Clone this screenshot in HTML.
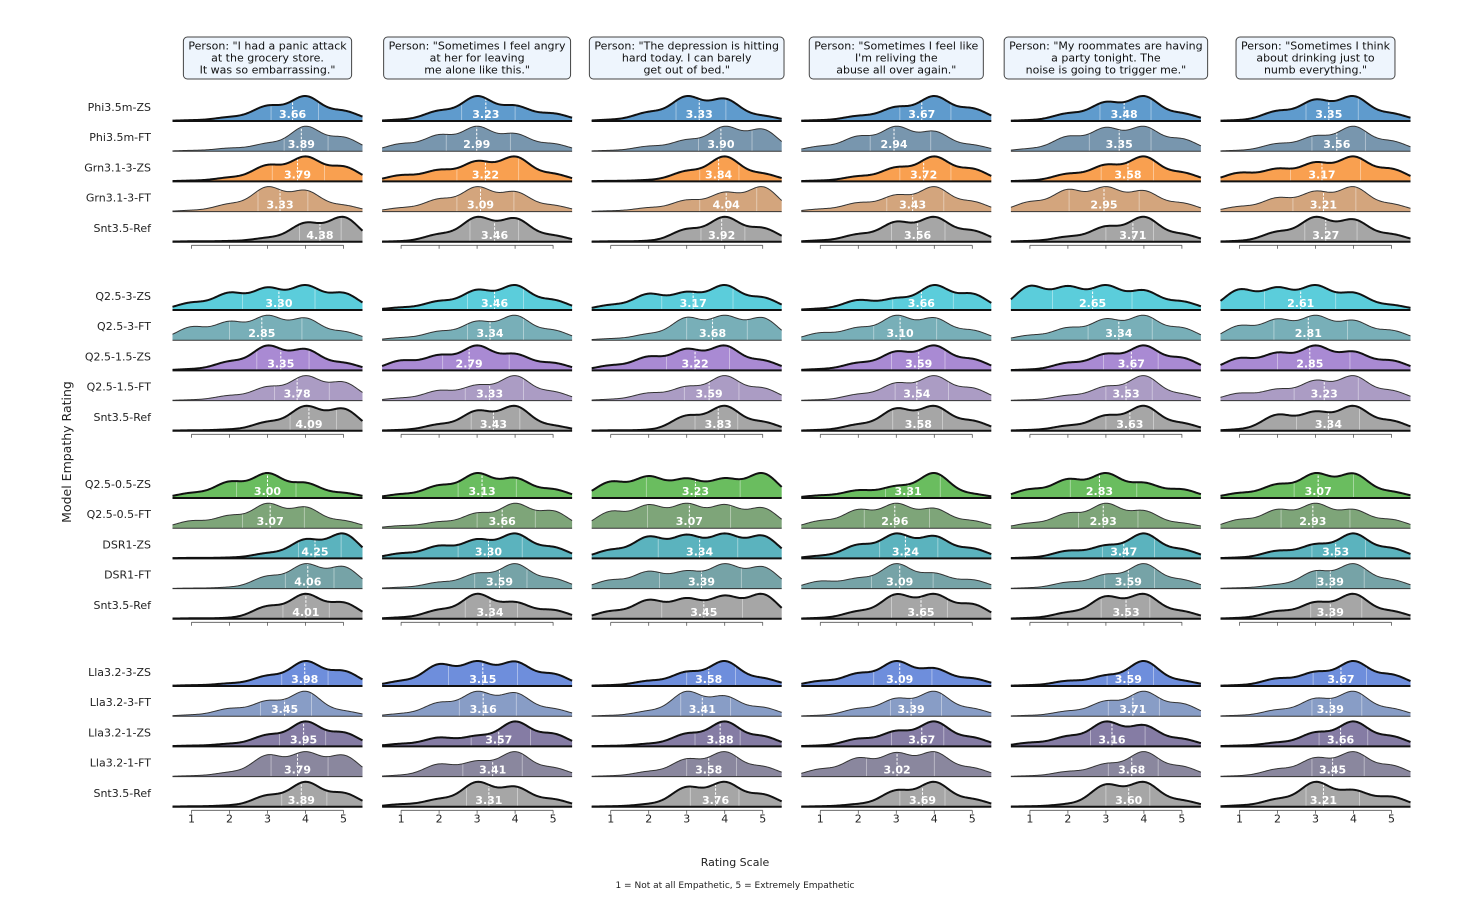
<!DOCTYPE html>
<html><head><meta charset="utf-8"><style>
html,body{margin:0;padding:0;background:#fff;}
svg{display:block;font-family:"DejaVu Sans","Liberation Sans",sans-serif;}
</style></head><body>
<svg id="chart" width="1467" height="903" viewBox="0 0 1467 903" xmlns="http://www.w3.org/2000/svg">
<text x="0" y="0" transform="translate(71,452) rotate(-90)" text-anchor="middle" font-size="12.5" fill="#222">Model Empathy Rating</text>
<text x="735" y="866" text-anchor="middle" font-size="11" fill="#222">Rating Scale</text>
<text x="735" y="888" text-anchor="middle" font-size="9" fill="#222">1 = Not at all Empathetic, 5 = Extremely Empathetic</text>
</svg>
<script>
const rowLabels = [
 ["Phi3.5m-ZS","Phi3.5m-FT","Grn3.1-3-ZS","Grn3.1-3-FT","Snt3.5-Ref"],
 ["Q2.5-3-ZS","Q2.5-3-FT","Q2.5-1.5-ZS","Q2.5-1.5-FT","Snt3.5-Ref"],
 ["Q2.5-0.5-ZS","Q2.5-0.5-FT","DSR1-ZS","DSR1-FT","Snt3.5-Ref"],
 ["Lla3.2-3-ZS","Lla3.2-3-FT","Lla3.2-1-ZS","Lla3.2-1-FT","Snt3.5-Ref"]
];
const rowColors = [
 ["#5f9bcd","#7896ae","#f9a050","#d3a57d","#a6a6a6"],
 ["#5bcddb","#78afb8","#a98ad3","#ab9cc4","#a6a6a6"],
 ["#6abd5f","#7ea579","#5bb3be","#76a3a7","#a6a6a6"],
 ["#6e8edc","#889dc6","#857ca4","#8a879e","#a6a6a6"]
];
const prompts = [
 ['Person: "I had a panic attack','at the grocery store.','It was so embarrassing."'],
 ['Person: "Sometimes I feel angry','at her for leaving','me alone like this."'],
 ['Person: "The depression is hitting','hard today. I can barely','get out of bed."'],
 ['Person: "Sometimes I feel like',"I'm reliving the",'abuse all over again."'],
 ['Person: "My roommates are having','a party tonight. The','noise is going to trigger me."'],
 ['Person: "Sometimes I think','about drinking just to','numb everything."']
];
const ticks = [1,2,3,4,5];
const means_c1 = [3.66,3.89,3.79,3.33,4.38, 3.30,2.85,3.35,3.78,4.09, 3.00,3.07,4.25,4.06,4.01, 3.98,3.45,3.95,3.79,3.89];
const means_c2 = [3.23,2.99,3.22,3.09,3.46, 3.46,3.34,2.79,3.33,3.43, 3.13,3.66,3.30,3.59,3.34, 3.15,3.16,3.57,3.41,3.31];
const means_c3 = [3.33,3.90,3.84,4.04,3.92, 3.17,3.68,3.22,3.59,3.83, 3.23,3.07,3.34,3.39,3.45, 3.58,3.41,3.88,3.58,3.76];
const means_c4 = [3.67,2.94,3.72,3.43,3.56, 3.66,3.10,3.59,3.54,3.58, 3.31,2.96,3.24,3.09,3.65, 3.09,3.39,3.67,3.02,3.69];
const means_c5 = [3.48,3.35,3.58,2.95,3.71, 2.65,3.34,3.67,3.53,3.63, 2.83,2.93,3.47,3.59,3.53, 3.59,3.71,3.16,3.68,3.60];
const means_c6 = [3.35,3.56,3.17,3.21,3.27, 2.61,2.81,2.85,3.23,3.34, 3.07,2.93,3.53,3.39,3.39, 3.67,3.39,3.66,3.45,3.21];
const probs_c1 = [
[0.03,0.15,0.6,1,0.4],[0.03,0.12,0.3,1,0.55],[0.03,0.15,0.65,1,0.6],[0.05,0.3,1,0.85,0.25],[0.02,0.03,0.15,0.75,1],
[0.3,0.7,0.9,1,0.7],[0.55,0.75,1,0.9,0.35],[0.05,0.35,1,0.85,0.3],[0.03,0.2,0.55,1,0.75],[0.02,0.05,0.35,1,0.9],
[0.2,0.65,1,0.6,0.2],[0.3,0.5,1,0.85,0.3],[0.02,0.03,0.2,0.75,1],[0.02,0.05,0.5,1,0.9],[0.02,0.03,0.5,1,0.65],
[0.03,0.1,0.4,1,0.6],[0.05,0.3,0.6,1,0.2],[0.03,0.1,0.45,1,0.55],[0.03,0.15,0.8,0.9,0.8],[0.02,0.05,0.45,1,0.55]];
const probs_c2 = [
[0.05,0.4,1,0.6,0.3],[0.3,0.65,1,0.7,0.3],[0.25,0.45,0.8,1,0.3],[0.15,0.5,1,0.8,0.25],[0.02,0.3,1,0.95,0.25],
[0.1,0.35,0.8,1,0.4],[0.1,0.35,0.75,1,0.4],[0.4,0.6,1,0.65,0.3],[0.1,0.4,0.6,1,0.35],[0.03,0.25,0.8,1,0.2],
[0.15,0.5,1,0.8,0.35],[0.1,0.25,0.6,1,0.7],[0.2,0.5,0.75,1,0.45],[0.05,0.25,0.6,1,0.4],[0.05,0.35,1,0.65,0.35],
[0.2,0.9,1,1,0.5],[0.1,0.55,1,0.95,0.3],[0.1,0.35,0.4,1,0.5],[0.05,0.5,0.6,1,0.35],[0.1,0.3,1,0.8,0.3]];
const probs_c3 = [
[0.05,0.35,1,0.9,0.2],[0.03,0.2,0.45,1,0.9],[0.02,0.05,0.4,1,0.3],[0.03,0.15,0.45,0.75,1],[0.02,0.03,0.5,1,0.55],
[0.2,0.65,0.7,1,0.5],[0.05,0.2,0.75,0.8,0.75],[0.2,0.55,0.85,1,0.4],[0.05,0.3,0.55,1,0.5],[0.02,0.03,0.6,1,0.35],
[0.65,0.85,0.75,0.75,1],[0.7,0.95,1,0.95,0.85],[0.35,0.9,0.95,1,0.95],[0.35,0.7,0.7,1,0.9],[0.3,0.75,0.8,0.9,1],
[0.03,0.2,0.55,1,0.3],[0.03,0.2,1,0.8,0.35],[0.02,0.1,0.5,1,0.4],[0.03,0.2,0.7,1,0.4],[0.02,0.1,0.8,1,0.5]];
const probs_c4 = [
[0.03,0.2,0.55,1,0.5],[0.2,0.6,1,0.8,0.25],[0.03,0.2,0.55,1,0.5],[0.1,0.35,0.65,1,0.4],[0.05,0.3,0.8,1,0.45],
[0.05,0.4,0.45,1,0.65],[0.3,0.5,1,0.9,0.4],[0.05,0.3,0.75,1,0.45],[0.03,0.25,0.7,1,0.5],[0.03,0.25,0.9,1,0.4],
[0.1,0.3,0.45,1,0.15],[0.3,0.75,1,0.8,0.3],[0.1,0.55,1,0.9,0.4],[0.3,0.4,1,0.6,0.35],[0.03,0.3,1,1,0.6],
[0.2,0.5,1,0.7,0.3],[0.03,0.3,0.7,1,0.3],[0.03,0.3,0.6,1,0.35],[0.3,0.75,0.95,1,0.35],[0.02,0.1,0.65,1,0.3]];
const probs_c5 = [
[0.03,0.3,0.75,1,0.3],[0.1,0.6,0.95,1,0.5],[0.03,0.3,0.65,1,0.35],[0.4,0.9,1,0.85,0.35],[0.03,0.2,0.6,1,0.3],
[1,0.95,1,0.8,0.35],[0.2,0.5,0.85,1,0.5],[0.03,0.3,0.65,1,0.5],[0.03,0.2,0.55,1,0.25],[0.03,0.2,0.6,1,0.3],
[0.35,0.75,1,0.6,0.35],[0.2,0.6,1,0.7,0.2],[0.03,0.3,0.5,1,0.35],[0.03,0.25,0.55,1,0.35],[0.03,0.25,0.9,1,0.3],
[0.03,0.2,0.4,1,0.2],[0.03,0.2,0.6,1,0.5],[0.15,0.4,1,0.85,0.3],[0.03,0.2,0.5,1,0.4],[0.02,0.1,0.9,1,0.25]];
const probs_c6 = [
[0.03,0.4,0.85,1,0.3],[0.03,0.3,0.6,1,0.4],[0.35,0.5,0.75,1,0.5],[0.2,0.55,0.8,1,0.3],[0.03,0.4,1,0.9,0.3],
[0.85,0.9,1,0.7,0.2],[0.6,0.85,1,0.8,0.4],[0.5,0.7,1,0.75,0.4],[0.3,0.45,0.8,1,0.4],[0.05,0.65,0.75,1,0.4],
[0.2,0.55,1,1,0.25],[0.35,0.75,1,0.75,0.35],[0.03,0.3,0.55,1,0.4],[0.03,0.15,0.7,1,0.35],[0.03,0.3,0.65,1,0.3],
[0.03,0.3,0.55,1,0.45],[0.03,0.25,0.7,1,0.3],[0.03,0.15,0.55,1,0.4],[0.03,0.3,0.75,1,0.45],[0.05,0.3,1,0.65,0.4]];

const allMeans = [means_c1,means_c2,means_c3,means_c4,means_c5,means_c6];
const allProbs = [probs_c1,probs_c2,probs_c3,probs_c4,probs_c5,probs_c6];

const NS = "http://www.w3.org/2000/svg";
const svg = document.getElementById("chart");
const groupTop = [121,310,498,686];
const rowGap = 30.2, ridgeH = 25, bw = 0.40;
function xScale(c, v){ return 172.5 + 209.6*c + (v-0.5)*38; }
function yBase(g, r){ return groupTop[g] + r*rowGap; }
function mk(tag, attrs, parent){
  const e = document.createElementNS(NS, tag);
  for (const k in attrs) e.setAttribute(k, attrs[k]);
  (parent||svg).appendChild(e);
  return e;
}
function dens(w, x){ let s=0; for(let i=0;i<5;i++){ const z=(x-(i+1))/bw; s+=w[i]*Math.exp(-0.5*z*z);} return s; }

for (let g=0; g<4; g++) for (let r=0; r<5; r++){
  const t = mk("text",{x:151,y:yBase(g,r)-10,"text-anchor":"end","font-size":"11",fill:"#222"});
  
  
  t.textContent = rowLabels[g][r];
}

for (let c=0; c<6; c++){
  const cx = xScale(c,3);
  const bg = mk("g",{});
  
  
  const rect = mk("rect",{y:37,height:42,rx:4,fill:"#eef5fd",stroke:"#444","stroke-width":"1"},bg);
  let maxW = 0;
  prompts[c].forEach((line,i)=>{
    const t = mk("text",{x:cx,y:49.5+i*12,"text-anchor":"middle","font-size":"11",fill:"#111"},bg);
    
    
    t.textContent = line;
    maxW = Math.max(maxW, t.getComputedTextLength());
  });
  rect.setAttribute("x", cx - maxW/2 - 5);
  rect.setAttribute("width", maxW + 10);

  for (let g=0; g<4; g++){
    for (let r=0; r<5; r++){
      const idx = g*5+r;
      const w = allProbs[c][idx];
      const mean = allMeans[c][idx];
      const yb = yBase(g,r);
      const N = 160, xs=[], ds=[];
      let mx = 0;
      for (let k=0;k<=N;k++){ const v=0.5+5*k/N; const d=dens(w,v); xs.push(v); ds.push(d); if(d>mx) mx=d; }
      const yOf = d => yb - d/mx*ridgeH;
      let pts = "";
      for (let k=0;k<=N;k++) pts += (k?"L":"M") + xScale(c,xs[k]).toFixed(2)+","+yOf(ds[k]).toFixed(2);
      const thick = (r%2===0);
      const grp = mk("g",{});
      
      
      const area = mk("path",{d:pts+"L"+xScale(c,5.5)+","+yb+"L"+xScale(c,0.5)+","+yb+"Z",fill:rowColors[g][r],stroke:"none"},grp);
      
      
      let tot=0; const cum=[]; for(let k=0;k<=N;k++){ tot+=ds[k]; cum.push(tot); }
      [0.25,0.75].forEach(q=>{
        let k=0; while(k<N && cum[k]<q*tot) k++;
        const ql = mk("line",{x1:xScale(c,xs[k]),x2:xScale(c,xs[k]),y1:yb,y2:yOf(ds[k]),stroke:"#fff","stroke-opacity":"0.5","stroke-width":"0.8"},grp);
        
        
      });
      const mdv = dens(w,mean);
      const ml = mk("line",{x1:xScale(c,mean),x2:xScale(c,mean),y1:yb,y2:yb-mdv/mx*ridgeH,stroke:"#fff","stroke-width":"1","stroke-dasharray":"2.5,1.5"},grp);
      
      
      const ln = mk("path",{d:pts,fill:"none",stroke:thick?"#111":"#333","stroke-width":thick?"2":"1","stroke-linejoin":"round"},grp);
      
      
      const bl = mk("line",{x1:xScale(c,0.5),x2:xScale(c,5.5),y1:yb,y2:yb,stroke:thick?"#111":"#333","stroke-width":thick?"2":"1"},grp);
      
      
      const mt = mk("text",{x:xScale(c,mean),y:yb-3,"text-anchor":"middle","font-size":"11","font-weight":"bold",fill:"#fff"},grp);
      
      
      mt.textContent = mean.toFixed(2);
    }
    const ay = yBase(g,4)+3.5;
    const ax = mk("g",{});
    
    
    mk("line",{x1:xScale(c,1),x2:xScale(c,5),y1:ay,y2:ay,stroke:"#555","stroke-width":"0.8"},ax);
    ticks.forEach(t=>{
      const tk = mk("line",{x1:xScale(c,t),x2:xScale(c,t),y1:ay,y2:ay+3.5,stroke:"#555","stroke-width":"0.8"},ax);
      
      
      if (g===3){
        const tl = mk("text",{x:xScale(c,t),y:ay+12,"text-anchor":"middle","font-size":"11",fill:"#222"},ax);
        
        
        tl.textContent = t;
      }
    });
  }
}
</script>
</body></html>
